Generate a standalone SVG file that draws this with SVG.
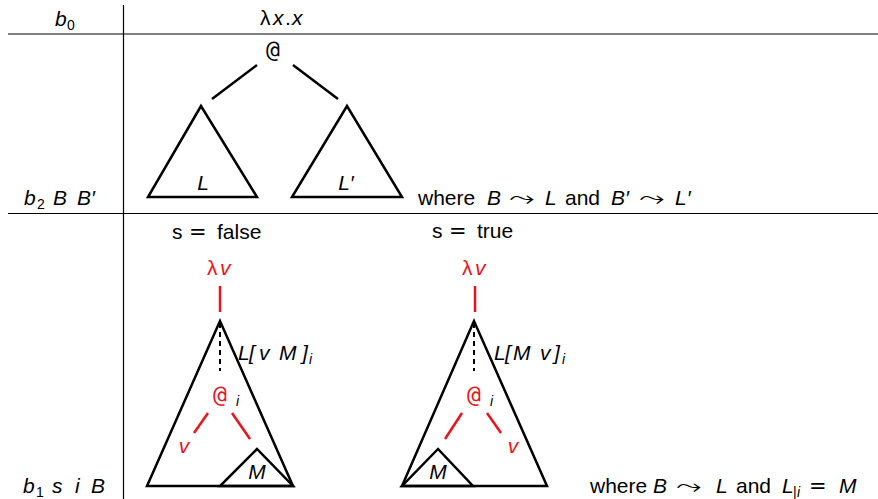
<svg xmlns="http://www.w3.org/2000/svg" width="878" height="499" viewBox="0 0 878 499">
<style>
text{font-family:"Liberation Sans","DejaVu Sans",sans-serif;font-size:21px;fill:#000}
.m{font-style:italic}
.r{fill:#e8141b}
.sub{font-size:14px;font-style:normal}
.si{font-size:14px;font-style:italic}
.ar{font-family:"DejaVu Sans",sans-serif;font-size:22px;font-style:normal}
.eq{font-family:"DejaVu Sans",sans-serif;font-size:21px;font-style:normal}
.at{font-family:"DejaVu Sans Mono","Liberation Mono",monospace;font-size:23px}
.k{stroke:#000;stroke-width:2.5;fill:none;stroke-linejoin:miter}
.rd{stroke:#e8141b;stroke-width:2.5;fill:none}
.ds{stroke:#000;stroke-width:2;stroke-dasharray:5,4;fill:none}
.g{stroke:#000;stroke-width:1.2}
</style>
<rect width="878" height="499" fill="#fff"/>
<g id="grid">
<line class="g" x1="8" y1="34" x2="878" y2="34"/>
<line class="g" x1="8" y1="213.5" x2="878" y2="213.5"/>
<line class="g" x1="123.5" y1="5" x2="123.5" y2="499"/>
</g>
<g id="labels">
<text x="55" y="26" class="m">b</text><text x="67" y="30" class="sub">0</text>
<text y="25"><tspan x="260">λ</tspan><tspan x="273" class="m">x</tspan><tspan x="285">.</tspan><tspan x="292" class="m">x</tspan></text>
<text y="205" class="m"><tspan x="24">b</tspan><tspan x="37" dy="4" class="sub">2</tspan><tspan x="53" dy="-4">B</tspan><tspan x="77">B′</tspan></text>
<text y="205"><tspan x="418">where</tspan><tspan x="487" class="m">B</tspan><tspan x="545" class="m">L</tspan><tspan x="565">and</tspan><tspan x="611" class="m">B′</tspan><tspan x="675" class="m">L′</tspan></text>
<text class="ar" transform="translate(509,205) scale(1.45,1)">⤳</text>
<text class="ar" transform="translate(639,205) scale(1.45,1)">⤳</text>
<text y="239"><tspan x="172">s</tspan><tspan x="189" class="eq">=</tspan><tspan x="217">false</tspan></text>
<text y="238"><tspan x="432">s</tspan><tspan x="449" class="eq">=</tspan><tspan x="477">true</tspan></text>
<text y="493" class="m"><tspan x="23">b</tspan><tspan x="36" dy="4" class="sub">1</tspan><tspan x="52" dy="-4">s</tspan><tspan x="75">i</tspan><tspan x="91">B</tspan></text>
<text y="493"><tspan x="590">where</tspan><tspan x="653" class="m">B</tspan><tspan x="716" class="m">L</tspan><tspan x="736">and</tspan><tspan x="782" class="m">L</tspan><tspan x="793" dy="4" class="sub">|</tspan><tspan x="797" class="si">i</tspan><tspan x="809" dy="-4" class="eq">=</tspan><tspan x="839" class="m">M</tspan></text>
<text class="ar" transform="translate(676,493) scale(1.45,1)">⤳</text>
</g>
<g id="app">
<text x="273" y="57" text-anchor="middle" class="at">@</text>
</g>
<g id="treeL">
<polygon class="k" points="201,106 148,197 257,197"/>
<text x="203" y="190" text-anchor="middle" class="m">L</text>
</g>
<g id="treeLp">
<polygon class="k" points="347,106 292,197 402,197"/>
<text x="346" y="190" text-anchor="middle" class="m">L′</text>
</g>
<g id="lamF">
<text y="275" class="r"><tspan x="207">λ</tspan><tspan x="220" class="m">v</tspan></text>
</g>
<g id="bigF">
<polygon class="k" points="220,321 147,486 293,486"/>
<text y="360" class="m"><tspan x="238">L</tspan><tspan x="249">[</tspan><tspan x="259">v</tspan><tspan x="279">M</tspan><tspan x="302">]</tspan><tspan x="309" dy="4" class="si">i</tspan></text>
</g>
<g id="appF">
<text x="220" y="402" text-anchor="middle" class="r at">@</text>
<text x="236" y="406" class="si">i</text>
</g>
<g id="vF">
<text x="184" y="453" text-anchor="middle" class="m r">v</text>
</g>
<g id="MF">
<polygon class="k" points="257,449 220,486 293,486"/>
<text x="257" y="479" text-anchor="middle" class="m">M</text>
</g>
<g id="lamT">
<text y="275" class="r"><tspan x="462">λ</tspan><tspan x="475" class="m">v</tspan></text>
</g>
<g id="bigT">
<polygon class="k" points="474,321 402,486 547,486"/>
<text y="360" class="m"><tspan x="494">L</tspan><tspan x="505">[</tspan><tspan x="513">M</tspan><tspan x="540">v</tspan><tspan x="554">]</tspan><tspan x="562" dy="4" class="si">i</tspan></text>
</g>
<g id="appT">
<text x="474" y="402" text-anchor="middle" class="r at">@</text>
<text x="490" y="406" class="si">i</text>
</g>
<g id="vT">
<text x="513" y="453" text-anchor="middle" class="m r">v</text>
</g>
<g id="MT">
<polygon class="k" points="438,449 402,486 473,486"/>
<text x="438" y="479" text-anchor="middle" class="m">M</text>
</g>
<g id="connectors">
<line class="k" x1="257" y1="65" x2="212" y2="99"/>
<line class="k" x1="293" y1="65" x2="338" y2="99"/>
<line class="rd" x1="220" y1="286" x2="220" y2="312"/>
<line class="ds" x1="220" y1="323" x2="220" y2="371"/>
<line class="rd" x1="208" y1="413" x2="194" y2="433"/>
<line class="rd" x1="232" y1="413" x2="250" y2="439"/>
<line class="rd" x1="475" y1="286" x2="475" y2="312"/>
<line class="ds" x1="474" y1="323" x2="474" y2="371"/>
<line class="rd" x1="462" y1="413" x2="445" y2="439"/>
<line class="rd" x1="487" y1="413" x2="501" y2="433"/>
</g>
</svg>
